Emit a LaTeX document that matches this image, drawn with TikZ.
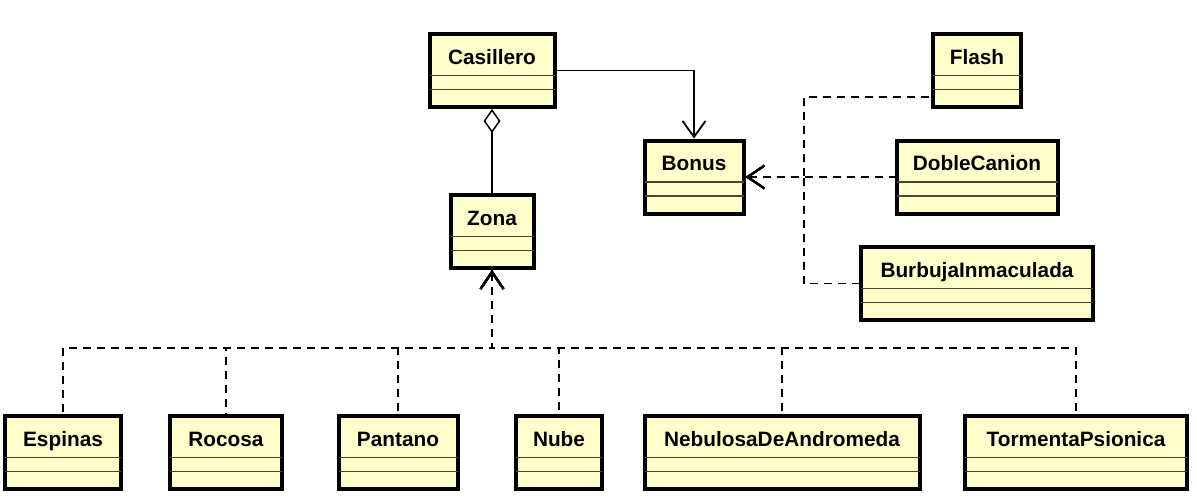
\documentclass[tikz,border=0pt]{standalone}
\usepackage{fontspec}
\setmainfont{Liberation Sans}
\usetikzlibrary{arrows.meta,calc}
\definecolor{boxfill}{RGB}{255,255,204}
\definecolor{sepcol}{RGB}{70,70,50}
\tikzset{
 umlbox/.style={draw=black, line width=4pt, fill=boxfill, minimum height=73pt, inner sep=0pt, anchor=north},
 ttl/.style={anchor=base, font=\fontsize{20.8}{24}\selectfont\bfseries, inner sep=0pt},
 sepline/.style={draw=sepcol, line width=1.5pt},
 assoc/.style={line width=1.5pt, -{Straight Barb[length=16pt,width=23pt,line width=1.8pt]}},
 realiz/.style={line width=1.8pt, dash pattern=on 8pt off 6pt, {Straight Barb[length=17pt,width=23pt,line width=2.2pt]}-},
 aggr/.style={line width=1.5pt, {Diamond[open,length=24pt,width=17pt,line width=1.5pt]}-},
}
\newcommand\umlclass[5]{%
 \node[umlbox, minimum width=#4pt-4pt] (#1) at (#2,#3) {};
 \node[ttl] (#1-t) at ($(#1.north)+(0,32)$) {#5};
 \draw[sepline] ($(#1.north west)+(2,43.5)$) -- ($(#1.north east)+(-2,43.5)$);
 \draw[sepline] ($(#1.north west)+(2,57.5)$) -- ($(#1.north east)+(-2,57.5)$);
}
\begin{document}
\begin{tikzpicture}[x=1pt,y=-1pt]
\useasboundingbox (0,0) rectangle (1197,501);
\umlclass{casillero}{492}{32}{129}{Casillero}
\umlclass{bonus}{694}{138.5}{103}{Bonus}
\umlclass{flash}{977}{32}{92}{Flash}
\umlclass{doble}{977}{138.5}{165}{DobleCanion}
\umlclass{burb}{977}{245}{236}{BurbujaInmaculada}
\umlclass{zona}{492}{193}{87}{Zona}
\umlclass{espinas}{63}{414}{120}{Espinas}
\umlclass{rocosa}{226}{414}{116}{Rocosa}
\umlclass{pantano}{398}{414}{123}{Pantano}
\umlclass{nube}{559}{414}{90}{Nube}
\umlclass{nebulosa}{782}{414}{279}{NebulosaDeAndromeda}
\umlclass{tormenta}{1076}{414}{226}{TormentaPsionica}
% associations
\draw[assoc] (casillero.east) -| (bonus.north);
\draw[aggr] (casillero.south) -- (zona.north);
% realizations to Bonus (drawn from the arrow end so the dashes line up)
\path (bonus.east) ++(58.5,0) coordinate (trunk);
\draw[realiz] (bonus.east) -- (trunk) |- ($(flash.west)+(0,26.5)$);
\draw[realiz] (bonus.east) -- (doble.west);
\draw[realiz] (bonus.east) -- (trunk) |- (burb.west);
% realizations to Zona
\coordinate (zbar) at (492,348);
\foreach \n in {espinas,rocosa,pantano,nube,nebulosa,tormenta}{
 \draw[realiz] (zona.south) -- (zbar) -| (\n.north);
}
\end{tikzpicture}
\end{document}
